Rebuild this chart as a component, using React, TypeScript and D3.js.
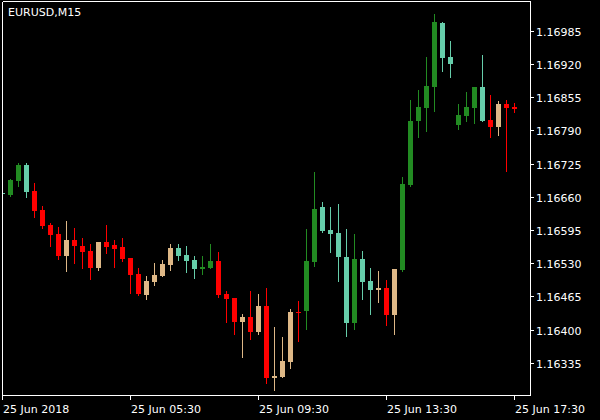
import React from 'react';
import * as d3 from 'd3';

// M15 candles, bar 0 = 25 Jun 01:30
const opens = [1.16668,1.16663,1.16691,1.16722,1.16671,1.16634,1.16605,1.16587,1.16543,1.16575,1.16563,1.16554,1.16521,1.16571,1.16565,1.16562,1.16540,1.16509,1.16468,1.16493,1.16505,1.16526,1.16560,1.16546,1.16536,1.16518,1.16520,1.16534,1.16470,1.16462,1.16415,1.16424,1.16395,1.16446,1.16305,1.16307,1.16336,1.16434,1.16436,1.16532,1.16640,1.16595,1.16589,1.16542,1.16413,1.16538,1.16495,1.16477,1.16481,1.16428,1.16516,1.16683,1.16808,1.16834,1.16875,1.17000,1.16934,1.16800,1.16818,1.16834,1.16875,1.16810,1.16796,1.16841,1.16836];
const highs = [1.16671,1.16694,1.16726,1.16726,1.16687,1.16642,1.16609,1.16601,1.16613,1.16599,1.16580,1.16567,1.16571,1.16605,1.16575,1.16579,1.16540,1.16520,1.16505,1.16530,1.16536,1.16567,1.16567,1.16563,1.16544,1.16544,1.16567,1.16552,1.16475,1.16462,1.16430,1.16475,1.16470,1.16481,1.16405,1.16385,1.16440,1.16456,1.16597,1.16708,1.16650,1.16640,1.16646,1.16597,1.16587,1.16554,1.16520,1.16515,1.16497,1.16518,1.16699,1.16849,1.16869,1.16934,1.17018,1.17002,1.16965,1.16841,1.16865,1.16875,1.16937,1.16859,1.16847,1.16849,1.16843];
const lows = [1.16661,1.16661,1.16680,1.16660,1.16621,1.16599,1.16564,1.16539,1.16515,1.16531,1.16521,1.16498,1.16517,1.16550,1.16523,1.16535,1.16471,1.16468,1.16460,1.16487,1.16505,1.16516,1.16536,1.16513,1.16501,1.16509,1.16520,1.16464,1.16415,1.16391,1.16346,1.16381,1.16391,1.16295,1.16282,1.16307,1.16325,1.16377,1.16401,1.16524,1.16591,1.16552,1.16495,1.16387,1.16401,1.16460,1.16430,1.16454,1.16409,1.16391,1.16515,1.16681,1.16777,1.16789,1.16828,1.16906,1.16894,1.16793,1.16808,1.16804,1.16808,1.16777,1.16781,1.16710,1.16826];
const closes = [1.16665,1.16693,1.16722,1.16670,1.16632,1.16603,1.16585,1.16543,1.16575,1.16563,1.16552,1.16521,1.16571,1.16562,1.16558,1.16538,1.16507,1.16470,1.16495,1.16507,1.16528,1.16560,1.16544,1.16534,1.16518,1.16522,1.16534,1.16468,1.16460,1.16415,1.16424,1.16395,1.16446,1.16305,1.16309,1.16338,1.16434,1.16432,1.16534,1.16636,1.16593,1.16587,1.16542,1.16413,1.16538,1.16493,1.16477,1.16481,1.16428,1.16518,1.16685,1.16808,1.16836,1.16877,1.17002,1.16932,1.16920,1.16820,1.16836,1.16875,1.16808,1.16796,1.16841,1.16834,1.16832];
// candle colour class: r = red, t = tan, g = green, a = aquamarine
const kinds = ['a','g','g','a','r','r','r','r','t','r','r','r','t','r','r','r','r','r','t','t','t','t','a','a','a','g','g','r','r','r','t','r','t','r','t','t','t','r','g','g','a','a','a','a','g','a','a','t','r','t','g','g','g','g','g','a','a','g','g','g','a','r','t','r','r'];

const xTickIndex = [0, 16, 32, 48, 64];
const xTickLabels = ['25 Jun 2018', '25 Jun 05:30', '25 Jun 09:30', '25 Jun 13:30', '25 Jun 17:30'];
const yTicks = [1.16985, 1.16920, 1.16855, 1.16790, 1.16725, 1.16660, 1.16595, 1.16530, 1.16465, 1.16400, 1.16335];

const title = 'EURUSD,M15';

const colorMap: Record<string, string> = {
  r: '#FF0000',
  t: '#DEB887',
  g: '#228B22',
  a: '#66CDAA',
};

export default function App() {
  const W = 600, H = 420;
  const fl = 2, fr = 530, ft = 2, fb = 395;
  const frameTop = 1;
  const x = d3.scaleLinear().domain([0, 64]).range([2.5, 514.5]);
  const y = d3.scaleLinear().domain([1.162718, 1.170412]).range([fb, ft]);
  const font = 'DejaVu Sans, sans-serif';

  return (
    <svg width={W} height={H} style={{ position: 'absolute', left: 0, top: 0, background: '#000' }}
      shapeRendering="crispEdges">
      <rect x={0} y={0} width={W} height={H} fill="#000" />
      <defs>
        <clipPath id="plot">
          <rect x={fl + 1} y={frameTop + 1} width={fr - fl - 1} height={fb - frameTop - 1} />
        </clipPath>
      </defs>
      <g clipPath="url(#plot)">
        {opens.map((o, i) => {
          const c = closes[i];
          const cx = x(i);
          const col = colorMap[kinds[i]];
          const yt = Math.round(y(Math.max(o, c)));
          const yb = Math.round(y(Math.min(o, c)));
          const yh = Math.round(y(highs[i]));
          const yl = Math.round(y(lows[i]));
          const wx = Math.floor(cx) + 0.5;
          return (
            <g key={i}>
              <line x1={wx} x2={wx} y1={yh} y2={yl + 1} stroke={col} strokeWidth={1} />
              <rect x={cx - 2.5} y={yt} width={5} height={Math.max(1, yb - yt)} fill={col} />
            </g>
          );
        })}
      </g>
      <line x1={fl + 0.5} x2={fr + 0.5} y1={frameTop + 0.5} y2={frameTop + 0.5} stroke="#fff" />
      <line x1={fl + 0.5} x2={fr + 0.5} y1={fb + 0.5} y2={fb + 0.5} stroke="#fff" />
      <line x1={fl + 0.5} x2={fl + 0.5} y1={frameTop + 0.5} y2={fb + 0.5} stroke="#fff" />
      <line x1={fr + 0.5} x2={fr + 0.5} y1={frameTop + 0.5} y2={fb + 1} stroke="#fff" />
      {yTicks.map((t) => {
        const yy = Math.round(y(t)) + 0.5;
        return (
          <g key={t}>
            <line x1={fr + 0.5} x2={fr + 4} y1={yy} y2={yy} stroke="#fff" />
            <text x={fr + 6} y={yy + 4} fill="#fff" fontSize={11} fontFamily={font}>{t.toFixed(5)}</text>
          </g>
        );
      })}
      {xTickIndex.map((idx, k) => {
        const xx = Math.floor(x(idx)) + 0.5;
        return (
          <g key={idx}>
            <line x1={xx} x2={xx} y1={fb + 0.5} y2={fb + 5} stroke="#fff" />
            <text x={xx + 0.5} y={fb + 17.5} fill="#fff" fontSize={11} fontFamily={font}>{xTickLabels[k]}</text>
          </g>
        );
      })}
      <text x={8} y={16} fill="#fff" fontSize={11} fontFamily={font}>{title}</text>
    </svg>
  );
}
